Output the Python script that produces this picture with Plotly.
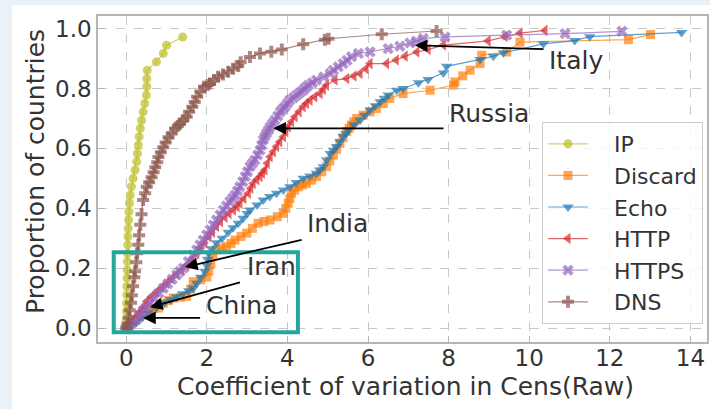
import plotly.graph_objects as go

# ---------------- data ----------------
series_names = ["IP", "Discard", "Echo", "HTTP", "HTTPS", "DNS"]

ip_x = [0.000, 0.003, 0.006, 0.010, 0.013, 0.016, 0.020, 0.024, 0.028, 0.032, 0.037, 0.043,
        0.050, 0.058, 0.068, 0.080, 0.100, 0.130, 0.170, 0.220, 0.260, 0.280, 0.300, 0.320,
        0.350, 0.380, 0.420, 0.460, 0.500, 0.510, 0.510, 0.520, 0.750, 0.920, 1.000, 1.400]
ip_y = [0.000, 0.028, 0.056, 0.083, 0.111, 0.139, 0.167, 0.194, 0.222, 0.250, 0.278, 0.306,
        0.333, 0.361, 0.389, 0.417, 0.444, 0.472, 0.500, 0.528, 0.556, 0.583, 0.611, 0.639,
        0.667, 0.694, 0.722, 0.750, 0.778, 0.806, 0.833, 0.861, 0.889, 0.917, 0.944, 0.972]

discard_x = [0.00, 0.09, 0.20, 0.30, 0.42, 0.55, 0.68, 0.80, 0.92, 1.05, 1.17, 1.35, 1.50, 1.60,
             1.66, 1.85, 2.00, 2.05, 2.10, 2.15, 2.24, 2.36, 2.49, 2.60, 2.70, 2.85, 2.99, 3.13,
             3.27, 3.42, 3.57, 3.75, 3.90, 3.96, 4.02, 4.06, 4.10, 4.18, 4.27, 4.37, 4.47, 4.60,
             4.72, 4.85, 4.97, 5.05, 5.14, 5.22, 5.30, 5.38, 5.47, 5.53, 5.59, 5.65, 5.72, 5.88,
             6.05, 6.21, 6.38, 6.54, 6.87, 7.54, 8.12, 8.16, 8.35, 8.53, 8.78, 8.82, 9.44, 9.77,
             12.46, 13.01]
discard_y = [0.000, 0.011, 0.025, 0.039, 0.050, 0.061, 0.065, 0.067, 0.083, 0.092, 0.100, 0.103,
             0.106, 0.130, 0.155, 0.161, 0.170, 0.190, 0.215, 0.240, 0.261, 0.267, 0.272, 0.283,
             0.294, 0.306, 0.317, 0.333, 0.350, 0.356, 0.361, 0.372, 0.383, 0.400, 0.417, 0.433,
             0.450, 0.461, 0.472, 0.478, 0.483, 0.494, 0.506, 0.522, 0.539, 0.558, 0.578, 0.597,
             0.617, 0.636, 0.656, 0.667, 0.678, 0.689, 0.700, 0.711, 0.722, 0.733, 0.750, 0.767,
             0.783, 0.794, 0.811, 0.822, 0.842, 0.861, 0.883, 0.911, 0.922, 0.955, 0.963, 0.980]

echo_x = [0.00, 0.15, 0.26, 0.40, 0.55, 0.75, 0.95, 1.10, 1.25, 1.40, 1.55, 1.66, 1.75, 1.85,
          1.95, 2.00, 2.02, 2.05, 2.12, 2.24, 2.38, 2.53, 2.65, 2.78, 2.90, 3.00, 3.07, 3.25,
          3.40, 3.56, 3.73, 3.90, 4.06, 4.22, 4.39, 4.56, 4.72, 4.80, 4.89, 4.97, 5.06, 5.14,
          5.22, 5.30, 5.38, 5.45, 5.51, 5.65, 5.80, 5.92, 6.05, 6.18, 6.30, 6.40, 6.50, 6.71,
          6.87, 7.25, 7.49, 7.87, 7.95, 8.78, 9.11, 9.36, 10.35, 11.13, 11.50, 13.78]
echo_y = [0.000, 0.010, 0.020, 0.035, 0.050, 0.070, 0.085, 0.095, 0.105, 0.115, 0.125, 0.133,
          0.150, 0.170, 0.190, 0.210, 0.230, 0.250, 0.265, 0.285, 0.300, 0.320, 0.335, 0.350,
          0.367, 0.383, 0.394, 0.411, 0.428, 0.439, 0.450, 0.461, 0.472, 0.486, 0.500, 0.508,
          0.517, 0.528, 0.539, 0.561, 0.583, 0.594, 0.606, 0.622, 0.639, 0.650, 0.661, 0.678,
          0.694, 0.711, 0.728, 0.742, 0.756, 0.767, 0.778, 0.794, 0.800, 0.819, 0.830, 0.852,
          0.874, 0.897, 0.908, 0.919, 0.949, 0.960, 0.973, 0.987]

http_x = [0.00, 0.08, 0.18, 0.28, 0.34, 0.42, 0.51, 0.62, 0.75, 0.88, 1.00, 1.12, 1.25, 1.38,
          1.50, 1.62, 1.75, 1.85, 1.95, 2.05, 2.14, 2.24, 2.34, 2.45, 2.55, 2.66, 2.75, 2.82,
          2.92, 3.03, 3.09, 3.15, 3.24, 3.32, 3.38, 3.44, 3.50, 3.57, 3.65, 3.73, 3.81, 3.90,
          3.96, 4.02, 4.10, 4.19, 4.29, 4.39, 4.47, 4.56, 4.68, 4.81, 4.89, 4.97, 5.18, 5.47,
          5.65, 5.80, 5.95, 6.05, 6.46, 6.70, 6.92, 7.21, 7.49, 7.87, 8.98, 9.40, 9.77, 10.39]
http_y = [0.000, 0.010, 0.025, 0.040, 0.055, 0.070, 0.090, 0.105, 0.120, 0.135, 0.150, 0.165,
          0.180, 0.195, 0.210, 0.228, 0.250, 0.268, 0.285, 0.305, 0.320, 0.340, 0.355, 0.370,
          0.383, 0.394, 0.405, 0.417, 0.433, 0.450, 0.467, 0.483, 0.495, 0.506, 0.517, 0.528,
          0.550, 0.572, 0.589, 0.606, 0.622, 0.639, 0.656, 0.672, 0.689, 0.706, 0.722, 0.739,
          0.750, 0.761, 0.772, 0.783, 0.797, 0.811, 0.828, 0.833, 0.842, 0.850, 0.866, 0.883,
          0.883, 0.895, 0.908, 0.922, 0.930, 0.945, 0.959, 0.974, 0.985, 0.994]

https_x = [0.00, 0.05, 0.15, 0.25, 0.34, 0.42, 0.50, 0.59, 0.70, 0.81, 0.92, 1.03, 1.14, 1.25,
           1.33, 1.42, 1.54, 1.66, 1.75, 1.83, 1.91, 2.00, 2.08, 2.16, 2.24, 2.33, 2.41, 2.49,
           2.57, 2.64, 2.70, 2.76, 2.82, 2.89, 2.95, 3.01, 3.07, 3.13, 3.19, 3.26, 3.32, 3.36,
           3.40, 3.44, 3.48, 3.53, 3.57, 3.63, 3.69, 3.76, 3.82, 3.88, 3.94, 4.00, 4.06, 4.15,
           4.23, 4.31, 4.39, 4.45, 4.52, 4.62, 4.72, 4.90, 5.06, 5.14, 5.26, 5.38, 5.48, 5.59,
           5.76, 6.05, 6.50, 6.79, 7.04, 7.20, 7.37, 7.91, 9.44, 10.89, 12.30]
https_y = [0.000, 0.006, 0.017, 0.028, 0.042, 0.056, 0.069, 0.083, 0.100, 0.117, 0.133, 0.148,
           0.163, 0.178, 0.189, 0.200, 0.222, 0.244, 0.261, 0.278, 0.294, 0.311, 0.328, 0.344,
           0.361, 0.378, 0.394, 0.408, 0.422, 0.433, 0.444, 0.458, 0.472, 0.489, 0.506, 0.522,
           0.539, 0.550, 0.561, 0.578, 0.594, 0.611, 0.628, 0.639, 0.650, 0.661, 0.672, 0.683,
           0.694, 0.708, 0.722, 0.731, 0.739, 0.750, 0.761, 0.769, 0.778, 0.786, 0.794, 0.803,
           0.811, 0.819, 0.828, 0.839, 0.850, 0.861, 0.872, 0.883, 0.894, 0.906, 0.917, 0.922,
           0.933, 0.941, 0.952, 0.958, 0.967, 0.972, 0.978, 0.983, 0.991]

dns_x = [0.00, 0.03, 0.06, 0.09, 0.12, 0.14, 0.17, 0.20, 0.22, 0.25, 0.27, 0.30, 0.32, 0.35,
         0.38, 0.42, 0.47, 0.51, 0.57, 0.63, 0.68, 0.72, 0.77, 0.80, 0.86, 0.92, 0.98, 1.05,
         1.13, 1.21, 1.28, 1.34, 1.42, 1.50, 1.56, 1.64, 1.70, 1.76, 1.84, 1.93, 2.02, 2.08,
         2.18, 2.28, 2.40, 2.53, 2.65, 2.78, 2.84, 3.07, 3.32, 3.60, 3.86, 4.39, 4.93, 5.02,
         6.34, 7.70]
dns_y = [0.000, 0.015, 0.035, 0.060, 0.085, 0.110, 0.140, 0.170, 0.190, 0.220, 0.250, 0.278,
         0.310, 0.345, 0.380, 0.428, 0.450, 0.472, 0.487, 0.504, 0.520, 0.537, 0.554, 0.571,
         0.587, 0.604, 0.620, 0.637, 0.650, 0.666, 0.675, 0.683, 0.695, 0.706, 0.722, 0.739,
         0.755, 0.772, 0.790, 0.806, 0.812, 0.817, 0.828, 0.839, 0.847, 0.856, 0.866, 0.875,
         0.888, 0.905, 0.917, 0.923, 0.930, 0.948, 0.963, 0.966, 0.981, 0.992]

x_ticks = [0, 2, 4, 6, 8, 10, 12, 14]
y_ticks = [0.0, 0.2, 0.4, 0.6, 0.8, 1.0]

# annotation labels: (text, text pos, arrow tail, arrow head)
labels = ["Italy", "Russia", "India", "Iran", "China"]
label_x = [11.17, 9.01, 5.24, 3.60, 2.85]
label_y = [0.894, 0.716, 0.348, 0.206, 0.077]
tail_x = [10.39, 7.91, 4.39, 2.86, 1.87]
tail_y = [0.931, 0.667, 0.296, 0.154, 0.034]
head_x = [7.16, 3.65, 1.46, 0.59, 0.42]
head_y = [0.944, 0.667, 0.204, 0.070, 0.034]

# ---------------- styling ----------------
W, H = 710, 409
ML, MR, MT, MB = 98, 3, 16, 67
PW, PH = W - ML - MR, H - MT - MB
FONT = "DejaVu Sans"
TXT = "#333333"
NBSP = "\u00a0"

colors = ["188,189,34", "255,127,14", "31,119,180", "214,39,40", "148,103,189", "140,86,75"]
symbols = ["circle", "square", "triangle-down", "triangle-left", "x", "cross"]
sizes = [9, 9, 10, 10, 10, 10]
xs = [ip_x, discard_x, echo_x, http_x, https_x, dns_x]
ys = [ip_y, discard_y, echo_y, http_y, https_y, dns_y]

fig = go.Figure()
for i, name in enumerate(series_names):
    fig.add_trace(go.Scatter(
        x=xs[i], y=ys[i], name=NBSP * 3 + name, mode="lines+markers",
        legendgroup=name,
        line=dict(color=f"rgba({colors[i]},0.7)", width=1.2),
        marker=dict(symbol=symbols[i], size=sizes[i], color=f"rgba({colors[i]},0.7)",
                    line=dict(width=0)),
    ))

def px2paper_x(px):
    return (px - ML) / PW

def px2paper_y(py):
    return (H - MB - py) / PH

shapes = [
    # light page background strips (left and top)
    dict(type="rect", xref="paper", yref="paper",
         x0=px2paper_x(0), x1=px2paper_x(12), y0=px2paper_y(H), y1=px2paper_y(0),
         fillcolor="rgb(234,242,247)", line=dict(width=0), layer="above"),
    dict(type="rect", xref="paper", yref="paper",
         x0=px2paper_x(0), x1=px2paper_x(W), y0=px2paper_y(5), y1=px2paper_y(0),
         fillcolor="rgb(234,242,247)", line=dict(width=0), layer="above"),
    # teal highlight box
    dict(type="rect", xref="x", yref="y", x0=-0.31, x1=4.26, y0=-0.014, y1=0.253,
         line=dict(color="#26a69a", width=4), fillcolor="rgba(0,0,0,0)", layer="above"),
]

annotations = []
for i, t in enumerate(labels):
    annotations.append(dict(
        x=head_x[i], y=head_y[i], ax=tail_x[i], ay=tail_y[i], axref="x", ayref="y",
        xref="x", yref="y", text="", showarrow=True, arrowhead=2, arrowsize=1.4,
        arrowwidth=1.8, arrowcolor="black", standoff=0, startstandoff=0))
    annotations.append(dict(
        x=label_x[i], y=label_y[i], xref="x", yref="y", text=t, showarrow=False,
        font=dict(family=FONT, size=25, color=TXT), xanchor="center", yanchor="middle"))

# axis titles
annotations.append(dict(x=px2paper_x(405), y=px2paper_y(386), xref="paper", yref="paper",
                        text="Coefficient of variation in Cens(Raw)", showarrow=False,
                        font=dict(family=FONT, size=25, color=TXT),
                        xanchor="center", yanchor="middle"))
annotations.append(dict(x=px2paper_x(35), y=px2paper_y(172), xref="paper", yref="paper",
                        text="Proportion of countries", showarrow=False, textangle=-90,
                        font=dict(family=FONT, size=25, color=TXT),
                        xanchor="center", yanchor="middle"))

axis_common = dict(
    showgrid=True, gridcolor="#c8c8c8", griddash="dash", gridwidth=1,
    showline=True, linecolor="#b5b5b5", linewidth=1.5, mirror=True,
    ticks="inside", ticklen=6, tickwidth=1.3, tickcolor="#b5b5b5",
    tickfont=dict(family=FONT, size=23, color=TXT), zeroline=False,
)

fig.update_layout(
    width=W, height=H,
    margin=dict(l=ML, r=MR, t=MT, b=MB, autoexpand=False),
    paper_bgcolor="white", plot_bgcolor="white",
    font=dict(family=FONT, color=TXT),
    xaxis=dict(range=[-0.70, 14.41], tickvals=x_ticks, ticktext=[str(v) for v in x_ticks],
               ticklabelstandoff=-5, **axis_common),
    yaxis=dict(range=[-0.0464, 1.042], tickvals=y_ticks,
               ticktext=[f"{v:.1f}" for v in y_ticks], **axis_common),
    legend=dict(x=px2paper_x(542), y=px2paper_y(122), xanchor="left", yanchor="top",
                bgcolor="rgba(255,255,255,0.8)", bordercolor="#cccccc", borderwidth=1,
                font=dict(family=FONT, size=22, color=TXT), tracegroupgap=0,
                itemwidth=40),
    shapes=shapes, annotations=annotations, showlegend=True,
)

fig.write_html(
    "out.html",
    config={"displayModeBar": False},
    post_script="document.body.style.margin='0px';document.body.style.padding='0px';",
)
